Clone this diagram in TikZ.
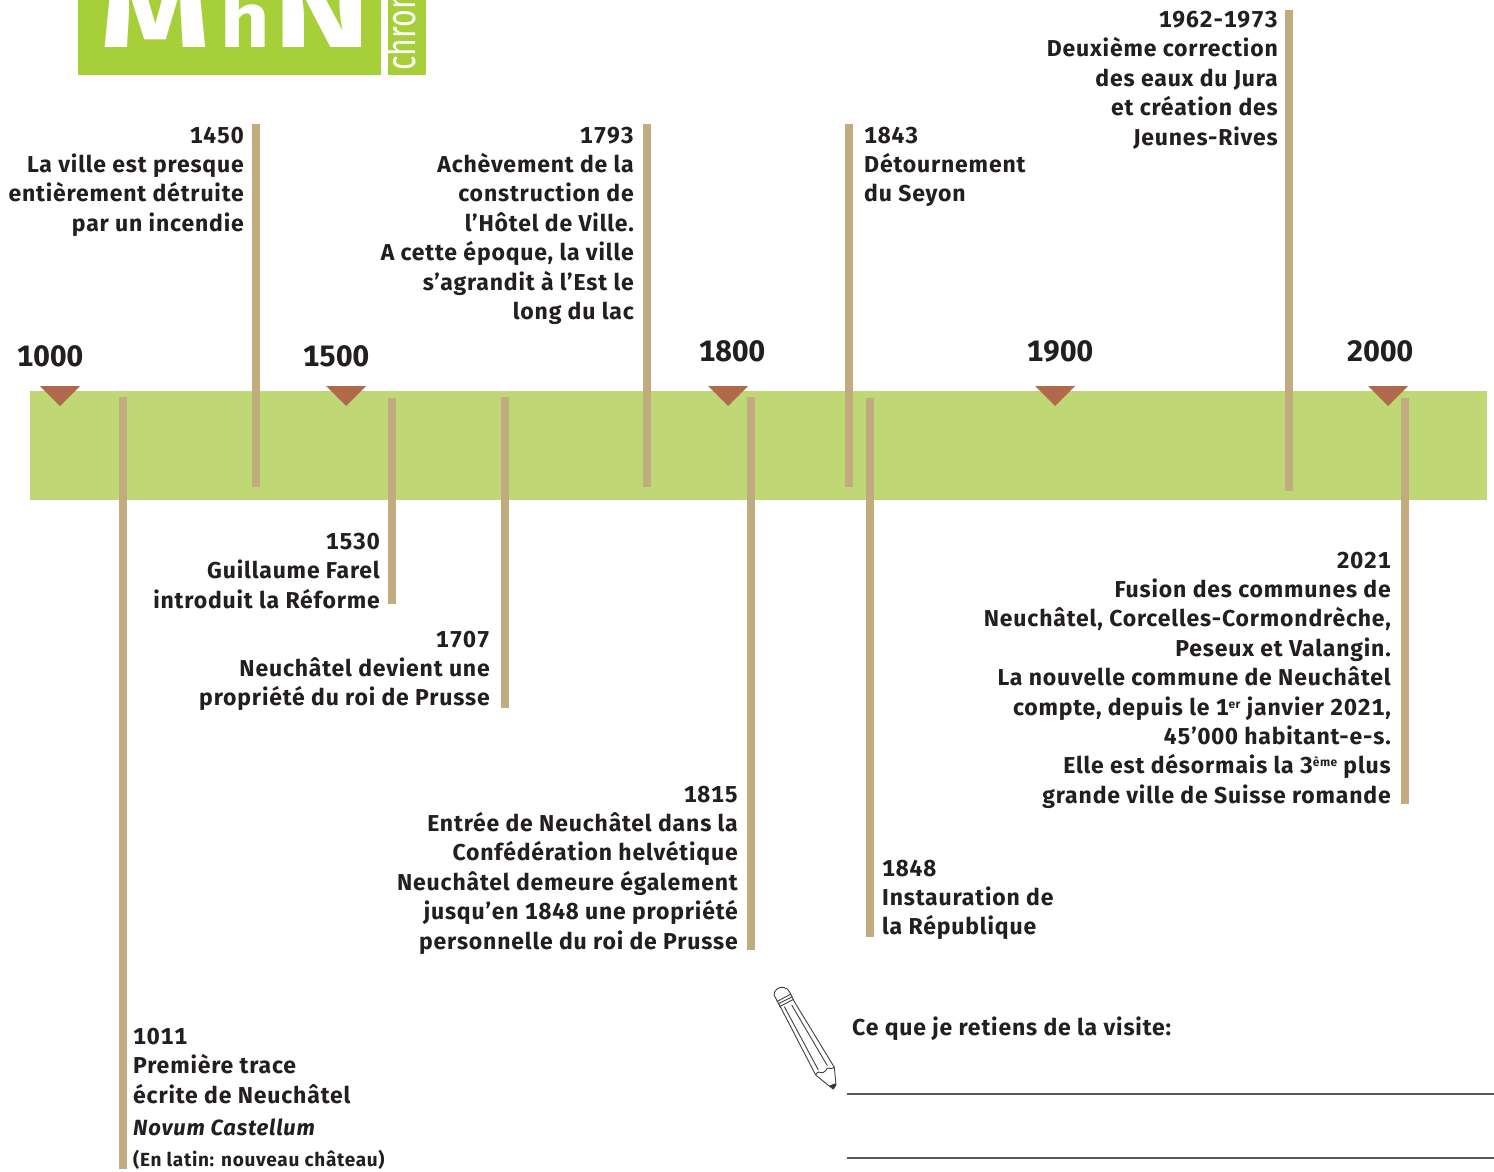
\documentclass[tikz,border=0pt]{standalone}
\usepackage{fontspec}
\setmainfont{Fira Sans}[LetterSpace=3.6,Numbers=Monospaced]
\newfontfamily\plainfont{Fira Sans}[Numbers=Monospaced]
\newcommand{\supmark}[1]{\raisebox{7pt}{\fontsize{12}{12}\selectfont #1}}
\definecolor{band}{HTML}{BFD875}
\definecolor{logo}{HTML}{A6CF3A}
\definecolor{barc}{HTML}{C2AB7F}
\definecolor{tri}{HTML}{B0694A}
\definecolor{ink}{HTML}{231F20}
\tikzset{
  blockr/.style={anchor=north east,align=right,inner sep=0pt,text=ink,font=\fontsize{23}{29.4}\selectfont\bfseries},
  blockl/.style={anchor=north west,align=left,inner sep=0pt,text=ink,font=\fontsize{23}{29.4}\selectfont\bfseries},
  yearlab/.style={anchor=center,inner sep=0pt,text=ink,font=\plainfont\fontsize{29.5}{36}\selectfont\bfseries},
  logoletter/.style={anchor=base west,inner sep=0pt,text=white},
  barf/.style={fill=barc,draw=none},
  trif/.style={fill=tri,draw=none},
  wline/.style={draw=black!65,line width=1.2pt},
  pen/.style={draw=black!75,line width=0.9pt,line join=round}
}
\begin{document}
\begin{tikzpicture}[x=1pt,y=-1pt]
\useasboundingbox (0,0) rectangle (1494,1172);
% logo
\fill[logo] (78,0) rectangle (381,75);
\fill[logo] (388,0) rectangle (426,75);
\begin{scope}
\clip (0,0) rectangle (1494,75);
\node[logoletter] (logom) at (100,48) {\scalebox{1.33}[1]{\plainfont\fontsize{105}{105}\selectfont\bfseries M}};
\node[logoletter] (logoh) at (220,48) {\scalebox{1.1}[1]{\plainfont\fontsize{78}{78}\selectfont\bfseries h}};
\node[logoletter] (logon) at (273,48) {\scalebox{1.4}[1]{\plainfont\fontsize{105}{105}\selectfont\bfseries N}};
\clip (388,0) rectangle (426,75);
\node[logoletter,rotate=90] (logochron) at (415,71) {\scalebox{0.74}[1]{\plainfont\fontsize{41}{41}\selectfont chronologie}};
\end{scope}
% band
\fill[band] (30,391) rectangle (1487,500);
% triangles
\fill[trif] (40,386) -- (80,386) -- (60,406) -- cycle;
\fill[trif] (326,386) -- (366,386) -- (346,406) -- cycle;
\fill[trif] (708,386) -- (748,386) -- (728,406) -- cycle;
\fill[trif] (1035,386) -- (1075,386) -- (1055,406) -- cycle;
\fill[trif] (1368,386) -- (1408,386) -- (1388,406) -- cycle;
% bars
\fill[barf] (119,397) rectangle (127,1169);
\fill[barf] (252,124) rectangle (260,487);
\fill[barf] (388,398) rectangle (396,604);
\fill[barf] (501,397) rectangle (509,708);
\fill[barf] (643,124) rectangle (651,487);
\fill[barf] (747,397) rectangle (755,950);
\fill[barf] (845,124) rectangle (853,487);
\fill[barf] (866,398) rectangle (874,937);
\fill[barf] (1285,10) rectangle (1293,491);
\fill[barf] (1401,398) rectangle (1409,804);
% years
\node[yearlab] (y1000) at (50,356) {1000};
\node[yearlab] (y1500) at (336,356) {1500};
\node[yearlab] (y1800) at (732,351) {1800};
\node[yearlab] (y1900) at (1060,351) {1900};
\node[yearlab] (y2000) at (1380,351) {2000};
% blocks
\node[blockr] (e1450) at (244,126.5) {1450\\La ville est presque\\entièrement détruite\\par un incendie};
\node[blockr] (e1793) at (634,126.5) {1793\\Achèvement de la\\construction de\\l’Hôtel de Ville.\\A cette époque, la ville\\s’agrandit à l’Est le\\long du lac};
\node[blockl] (e1843) at (864,126.5) {1843\\Détournement\\du Seyon};
\node[blockr] (e1962) at (1278,11) {1962-1973\\Deuxième correction\\des eaux du Jura\\et création des\\Jeunes-Rives};
\node[blockr] (e1530) at (380,533) {1530\\Guillaume Farel\\introduit la Réforme};
\node[blockr] (e1707) at (490,630.5) {1707\\Neuchâtel devient une\\propriété du roi de Prusse};
\node[blockr] (e1815) at (738,785.5) {1815\\Entrée de Neuchâtel dans la\\Confédération helvétique\\Neuchâtel demeure également\\jusqu’en 1848 une propriété\\personnelle du roi de Prusse};
\node[blockl] (e1848) at (882,859.5) {1848\\Instauration de\\la République};
\node[blockr] (e2021) at (1391,551.5) {2021\\Fusion des communes de\\Neuchâtel, Corcelles-Cormondrèche,\\Peseux et Valangin.\\La nouvelle commune de Neuchâtel\\compte, depuis le 1\supmark{er} janvier 2021,\\45’000 habitant-e-s.\\Elle est désormais la 3\supmark{ème} plus\\grande ville de Suisse romande};
\node[blockl] (e1011) at (133,1028) {1011\\Première trace\\écrite de Neuchâtel};
\node[blockl,anchor=base west,font=\fontsize{22}{26}\selectfont\bfseries] (e1011b) at (133,1135) {\itshape Novum Castellum};
\node[blockl,anchor=base west,font=\fontsize{19}{24}\selectfont\bfseries] (e1011c) at (133,1166) {(En latin: nouveau château)};
\node[blockl] (retiens) at (852,1017) {Ce que je retiens de la visite:};
% writing lines
\draw[wline] (847,1094) -- (1494,1094);
\draw[wline] (847,1158) -- (1494,1158);
% pencil
\begin{scope}[shift={(750,970)},x=0.3333pt,y=-0.3333pt]
\draw[pen] (72,75) .. controls (72,58) and (88,50) .. (100,52) .. controls (110,53) and (116,60) .. (120,68) -- (133,95) -- (253,292) -- (258,345) -- (250,357) -- (240,350) -- (197,315) -- (92,112) -- cycle;
\draw[pen] (80,95) -- (123,72);
\draw[pen] (84,102) -- (127,80);
\draw[pen] (88,110) -- (131,88);
\draw[pen] (103,110) -- (205,300);
\draw[pen] (125,105) -- (232,287);
\draw[pen] (197,315) .. controls (202,305) and (208,303) .. (213,308) .. controls (222,310) and (228,300) .. (233,294) .. controls (240,298) and (247,296) .. (253,292);
\fill[black!80] (238,347) -- (250,357) -- (258,345) -- (256,340) -- cycle;
\end{scope}
\end{tikzpicture}
\end{document}
